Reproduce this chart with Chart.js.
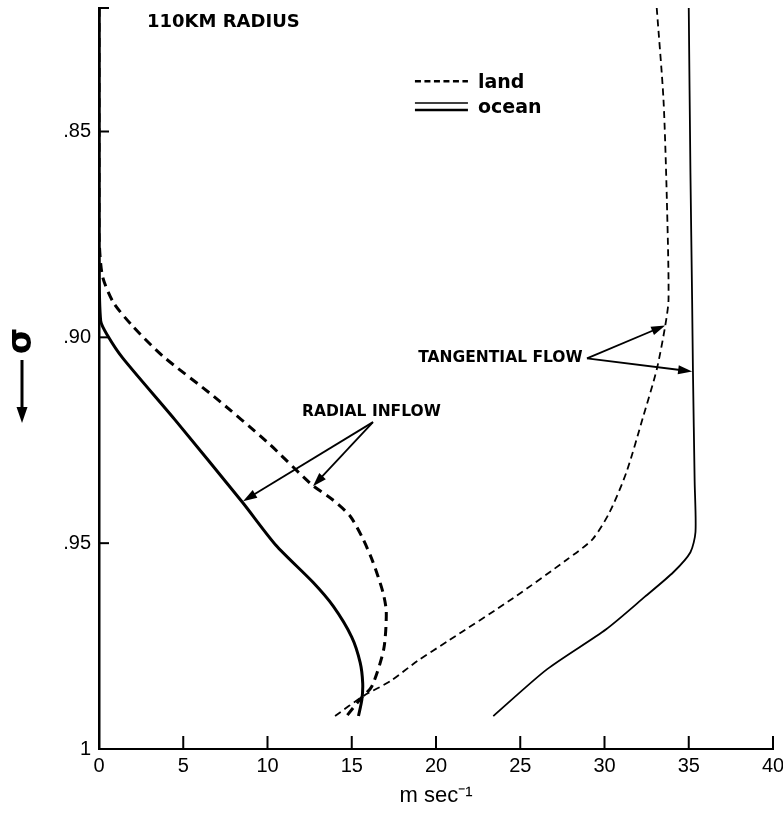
<!DOCTYPE html>
<html>
<head>
<meta charset="utf-8">
<script src="https://cdn.jsdelivr.net/npm/chart.js@4.4.0/dist/chart.umd.min.js"></script>
<style>
html, body { margin: 0; padding: 0; background: #fff; }
#wrap { width: 783px; height: 813px; }
</style>
</head>
<body>
<div id="wrap"><canvas id="myChart" width="783" height="813"></canvas></div>
<script>
/* values: x = m/s, y = sigma */
var xTicks = [0, 5, 10, 15, 20, 25, 30, 35, 40];
var yTickValues = [0.85, 0.90, 0.95, 1.0];
var yTickLabels = ['.85', '.90', '.95', '1'];

var radialOceanV     = [0, 0, 0, 0.1, 0.5, 1.4, 4.5, 8.5, 10.5, 12.7, 13.9, 15.0, 15.5, 15.65, 15.6, 15.4];
var radialOceanSigma = [0.82, 0.85, 0.88, 0.896, 0.8995, 0.905, 0.920, 0.940, 0.9505, 0.9595, 0.9653, 0.9728, 0.979, 0.984, 0.988, 0.992];

var radialLandV     = [0, 0, 0, 0.2, 0.85, 2.0, 3.8, 6.8, 10.0, 12.6, 13.85, 14.9, 15.67, 16.26, 16.85, 17.05, 16.9, 16.2, 15.5, 14.7];
var radialLandSigma = [0.82, 0.85, 0.875, 0.885, 0.8915, 0.8973, 0.9046, 0.9143, 0.9255, 0.9357, 0.9394, 0.9434, 0.949, 0.9546, 0.9619, 0.9667, 0.9757, 0.9847, 0.9879, 0.992];

var tangLandV     = [33.1, 33.5, 33.7, 33.8, 33.6, 33.1, 32.3, 31.3, 30.3, 29.3, 27.8, 24.6, 20.7, 18.9, 17.3, 15.7, 14.0];
var tangLandSigma = [0.82, 0.8422, 0.8665, 0.8908, 0.8973, 0.9078, 0.9192, 0.9328, 0.9425, 0.949, 0.9539, 0.9633, 0.9738, 0.9786, 0.9835, 0.9871, 0.992];

var tangOceanV     = [35.0, 35.1, 35.2, 35.25, 35.35, 35.4, 35.1, 34.1, 32.4, 30.1, 26.6, 23.4];
var tangOceanSigma = [0.82, 0.86, 0.8908, 0.9085, 0.935, 0.9473, 0.9522, 0.957, 0.963, 0.9709, 0.9806, 0.992];

function pairs(v, s) {
    return v.map(function (x, i) { return { x: x, y: s[i] }; });
}

// annotation anchors, in data units
var tangTail = [28.96, 0.9051];
var tangTips = [[33.6, 0.8971], [35.2, 0.9083]];
var radTail = [16.26, 0.9206];
var radTips = [[8.55, 0.9398], [12.7, 0.9362]];

var extras = {
    id: 'extras',
    afterDraw: function (chart) {
        var ctx = chart.ctx, xs = chart.scales.x, ys = chart.scales.y, a = chart.chartArea;
        function px(v) { return xs.getPixelForValue(v); }
        function py(v) { return ys.getPixelForValue(v); }
        ctx.save();
        ctx.strokeStyle = '#000';
        ctx.fillStyle = '#000';

        // ticks pointing inward
        ctx.lineWidth = 2;
        xTicks.forEach(function (v) {
            if (v === 0) return;
            ctx.beginPath();
            ctx.moveTo(px(v), a.bottom);
            ctx.lineTo(px(v), a.bottom - 13);
            ctx.stroke();
        });
        yTickValues.concat([ys.min]).forEach(function (v) {
            if (v === 1) return;
            ctx.beginPath();
            ctx.moveTo(a.left, py(v));
            ctx.lineTo(a.left + 10, py(v));
            ctx.stroke();
        });

        // arrows
        function arrow(t, h) {
            var x0 = px(t[0]), y0 = py(t[1]), x1 = px(h[0]), y1 = py(h[1]);
            var ang = Math.atan2(y1 - y0, x1 - x0), L = 14, W = 4.5;
            ctx.lineWidth = 1.8;
            ctx.beginPath();
            ctx.moveTo(x0, y0);
            ctx.lineTo(x1 - Math.cos(ang) * 6, y1 - Math.sin(ang) * 6);
            ctx.stroke();
            ctx.beginPath();
            ctx.moveTo(x1, y1);
            ctx.lineTo(x1 - L * Math.cos(ang) + W * Math.sin(ang), y1 - L * Math.sin(ang) - W * Math.cos(ang));
            ctx.lineTo(x1 - L * Math.cos(ang) - W * Math.sin(ang), y1 - L * Math.sin(ang) + W * Math.cos(ang));
            ctx.closePath();
            ctx.fill();
        }
        tangTips.forEach(function (h) { arrow(tangTail, h); });
        radTips.forEach(function (h) { arrow(radTail, h); });

        // labels
        ctx.textBaseline = 'middle';
        ctx.font = 'bold 18px "DejaVu Sans"';
        ctx.textAlign = 'left';
        ctx.fillText('110KM RADIUS', px(2.85), py(0.8235));
        ctx.font = 'bold 15.5px "DejaVu Sans"';
        ctx.textAlign = 'right';
        ctx.fillText('TANGENTIAL FLOW', px(28.7), py(0.9049));
        ctx.textAlign = 'left';
        ctx.fillText('RADIAL INFLOW', px(12.05), py(0.9182));

        // legend
        var lx0 = px(18.75), lx1 = lx0 + 53;
        ctx.lineWidth = 2.5;
        ctx.setLineDash([6, 3.5]);
        ctx.beginPath(); ctx.moveTo(lx0, py(0.8378)); ctx.lineTo(lx1, py(0.8378)); ctx.stroke();
        ctx.setLineDash([]);
        ctx.lineWidth = 1.5;
        ctx.beginPath(); ctx.moveTo(lx0, py(0.8431)); ctx.lineTo(lx1, py(0.8431)); ctx.stroke();
        ctx.lineWidth = 2.5;
        ctx.beginPath(); ctx.moveTo(lx0, py(0.8448)); ctx.lineTo(lx1, py(0.8448)); ctx.stroke();
        ctx.font = 'bold 19px "DejaVu Sans"';
        ctx.fillText('land', lx1 + 10, py(0.8383));
        ctx.fillText('ocean', lx1 + 10, py(0.8442));

        // y title: sigma with a downward arrow
        ctx.save();
        ctx.translate(22, 341);
        ctx.rotate(-Math.PI / 2);
        ctx.textAlign = 'center';
        ctx.font = 'bold 34px "DejaVu Sans"';
        ctx.fillText('σ', 0, 0);
        ctx.restore();
        ctx.lineWidth = 3;
        ctx.beginPath(); ctx.moveTo(22, 360); ctx.lineTo(22, 412); ctx.stroke();
        ctx.beginPath(); ctx.moveTo(22, 423); ctx.lineTo(16.5, 407); ctx.lineTo(27.5, 407); ctx.closePath(); ctx.fill();
        ctx.restore();
    }
};

var ctx = document.getElementById('myChart').getContext('2d');
var chart = new Chart(ctx, {
    type: 'scatter',
    data: {
        datasets: [
            { label: 'radial ocean', data: pairs(radialOceanV, radialOceanSigma), borderWidth: 3 },
            { label: 'radial land', data: pairs(radialLandV, radialLandSigma), borderWidth: 3, borderDash: [9, 6] },
            { label: 'tangential land', data: pairs(tangLandV, tangLandSigma), borderWidth: 1.8, borderDash: [7, 4.5] },
            { label: 'tangential ocean', data: pairs(tangOceanV, tangOceanSigma), borderWidth: 1.8 }
        ]
    },
    options: {
        responsive: false,
        animation: false,
        devicePixelRatio: 1,
        layout: { padding: { top: 8, right: 10, left: 0, bottom: 0 } },
        elements: {
            line: { borderColor: '#000', tension: 0.25, fill: false },
            point: { radius: 0, hoverRadius: 0 }
        },
        datasets: { scatter: { showLine: true } },
        plugins: { legend: { display: false }, tooltip: { enabled: false } },
        scales: {
            x: {
                type: 'linear', min: 0, max: 40,
                afterFit: function (s) { s.height = 64; s.paddingLeft = 0; s.paddingRight = 0; },
                afterBuildTicks: function (s) { s.ticks = xTicks.map(function (v) { return { value: v }; }); },
                grid: { display: false, drawTicks: false },
                border: { display: true, color: '#000', width: 2 },
                ticks: { color: '#000', padding: 5, font: { family: 'Liberation Sans', size: 20 } },
                title: { display: true, text: 'm sec⁻¹', color: '#000', padding: { top: 0, bottom: 4 },
                         font: { family: 'Liberation Sans', size: 22 } }
            },
            y: {
                type: 'linear', min: 0.82, max: 1.0, reverse: true,
                afterFit: function (s) { s.width = 99; s.paddingTop = 0; s.paddingBottom = 0; },
                afterBuildTicks: function (s) { s.ticks = yTickValues.map(function (v) { return { value: v }; }); },
                grid: { display: false, drawTicks: false },
                border: { display: true, color: '#000', width: 2.5 },
                ticks: {
                    color: '#000', padding: 8, font: { family: 'Liberation Sans', size: 20 },
                    callback: function (v, i) { return yTickLabels[i]; }
                }
            }
        }
    },
    plugins: [extras]
});
</script>
</body>
</html>
